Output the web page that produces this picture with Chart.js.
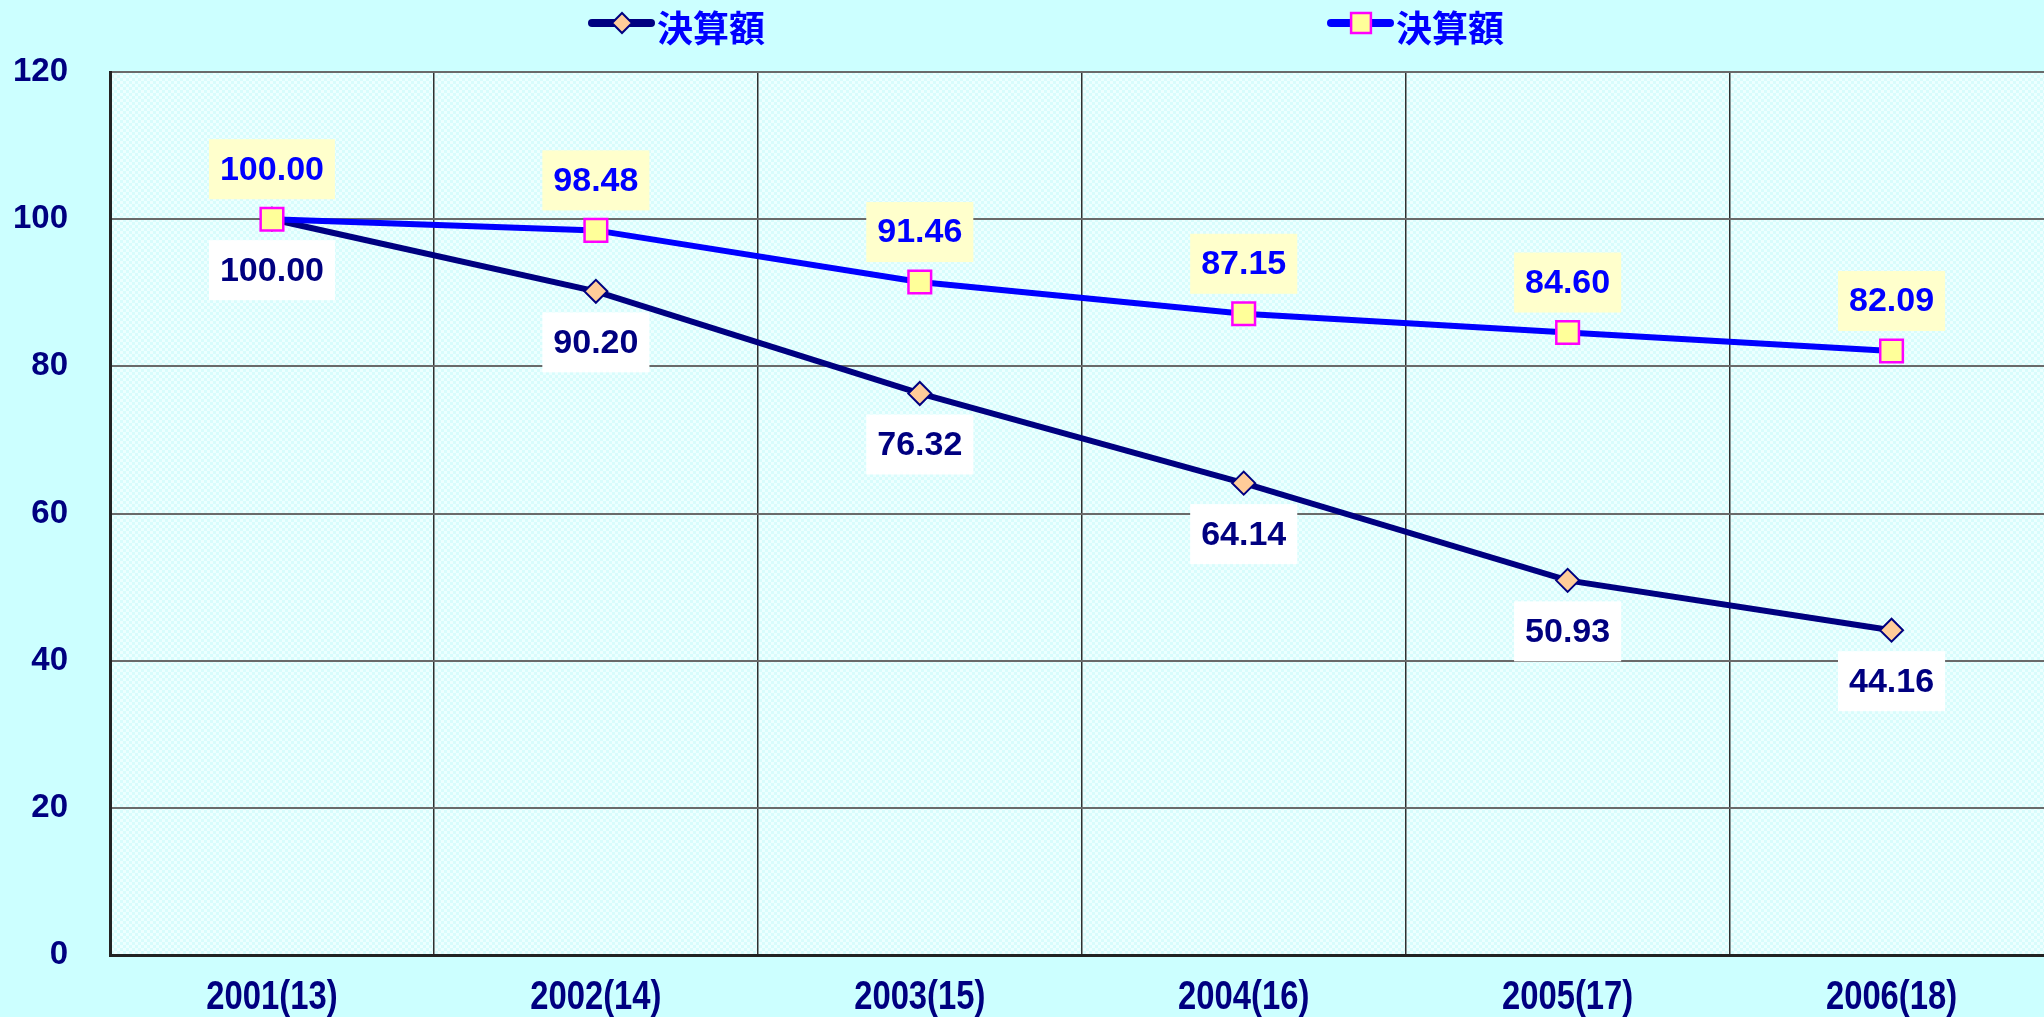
<!DOCTYPE html>
<html>
<head>
<meta charset="utf-8">
<script src="https://cdn.jsdelivr.net/npm/chart.js@4.4.1/dist/chart.umd.min.js"></script>
<style>
    html, body {
        margin: 0;
        padding: 0;
        overflow: hidden;
        background: #CCFFFF;
    }
    #wrap {
        position: relative;
        width: 2044px;
        height: 1017px;
        overflow: hidden;
    }
    #chart {
        position: absolute;
        left: 0;
        top: 0;
    }
</style>
</head>
<body>
<div id="wrap">
    <canvas id="chart" width="2072" height="1017"></canvas>
</div>
<script>
// Chart data
const years = ['2001(13)', '2002(14)', '2003(15)', '2004(16)', '2005(17)', '2006(18)'];
const seriesNames = ['決算額', '決算額'];
const navyValues = [100.00, 90.20, 76.32, 64.14, 50.93, 44.16];
const blueValues = [100.00, 98.48, 91.46, 87.15, 84.60, 82.09];
const yTicks = [0, 20, 40, 60, 80, 100, 120];

const NAVY = '#000080';
const BLUE = '#0000FF';

// Checkered plot background
function makePattern() {
    const c = document.createElement('canvas');
    c.width = 6;
    c.height = 6;
    const g = c.getContext('2d');
    g.fillStyle = '#EDFFFF';
    g.fillRect(0, 0, 6, 6);
    g.fillStyle = '#D8FCFC';
    g.fillRect(0, 0, 3, 3);
    g.fillRect(3, 3, 3, 3);
    return g.createPattern(c, 'repeat');
}

const plotBackground = {
    id: 'plotBackground',
    beforeDraw(chart) {
        const { ctx, chartArea } = chart;
        ctx.save();
        ctx.fillStyle = makePattern();
        ctx.fillRect(chartArea.left, chartArea.top, chartArea.right - chartArea.left, chartArea.bottom - chartArea.top);
        ctx.restore();
    }
};

// Condensed category labels under the x axis
const xLabels = {
    id: 'xLabels',
    afterDraw(chart) {
        const ctx = chart.ctx;
        const xs = chart.scales.x;
        ctx.save();
        ctx.font = 'bold 41px "Liberation Sans", Arial, sans-serif';
        ctx.fillStyle = NAVY;
        ctx.textAlign = 'center';
        ctx.textBaseline = 'middle';
        years.forEach((lab, i) => {
            const x = xs.getPixelForTick(i);
            ctx.save();
            ctx.translate(x, xs.bottom - 17);
            ctx.scale(0.8, 1);
            ctx.fillText(lab, 0, 0);
            ctx.restore();
        });
        ctx.restore();
    }
};

// Value labels in boxes
const valueLabels = {
    id: 'valueLabels',
    afterDatasetsDraw(chart) {
        const ctx = chart.ctx;
        ctx.save();
        ctx.font = 'bold 34px "Liberation Sans", Arial, sans-serif';
        ctx.textAlign = 'center';
        ctx.textBaseline = 'middle';
        chart.data.datasets.forEach((ds, i) => {
            const meta = chart.getDatasetMeta(i);
            meta.data.forEach((pt, j) => {
                const text = ds.data[j].toFixed(2);
                const w = ctx.measureText(text).width + 22;
                const h = 60;
                const cy = ds.labelAbove ? pt.y - 50 : pt.y + 51;
                ctx.fillStyle = ds.labelBox;
                ctx.fillRect(pt.x - w / 2, cy - h / 2, w, h);
                ctx.fillStyle = ds.labelColor;
                ctx.fillText(text, pt.x, cy + 1);
            });
        });
        ctx.restore();
    }
};

// Legend drawn at the top
const topLegend = {
    id: 'topLegend',
    afterDraw(chart) {
        const ctx = chart.ctx;
        const spots = [588, 1327];
        const legendRadius = [10, 14];
        ctx.save();
        chart.data.datasets.forEach((ds, i) => {
            const x0 = spots[i];
            const y = 23;
            ctx.strokeStyle = ds.borderColor;
            ctx.lineWidth = 8;
            ctx.lineCap = 'round';
            ctx.beginPath();
            ctx.moveTo(x0 + 4, y);
            ctx.lineTo(x0 + 63, y);
            ctx.stroke();
            ctx.fillStyle = ds.pointBackgroundColor;
            ctx.strokeStyle = ds.pointBorderColor;
            ctx.lineWidth = ds.pointBorderWidth;
            Chart.helpers.drawPoint(ctx, {
                pointStyle: ds.pointStyle,
                radius: legendRadius[i],
                borderWidth: ds.pointBorderWidth
            }, x0 + 34, y);
            ctx.font = 'bold 36px "Noto Sans CJK JP", sans-serif';
            ctx.fillStyle = BLUE;
            ctx.textAlign = 'left';
            ctx.textBaseline = 'middle';
            ctx.fillText(ds.label, x0 + 69, y + 5);
        });
        ctx.restore();
    }
};

new Chart(document.getElementById('chart'), {
    type: 'line',
    data: {
        labels: years,
        datasets: [{
            label: seriesNames[0],
            data: navyValues,
            borderColor: NAVY,
            borderWidth: 6,
            pointStyle: 'rectRot',
            pointRadius: 11.5,
            pointBackgroundColor: '#FFCC99',
            pointBorderColor: NAVY,
            pointBorderWidth: 2,
            tension: 0,
            order: 2,
            labelAbove: false,
            labelBox: '#FFFFFF',
            labelColor: NAVY
        }, {
            label: seriesNames[1],
            data: blueValues,
            borderColor: BLUE,
            borderWidth: 6,
            pointStyle: 'rect',
            pointRadius: 16,
            pointBackgroundColor: '#FFFF99',
            pointBorderColor: '#FF00FF',
            pointBorderWidth: 2.5,
            tension: 0,
            order: 1,
            labelAbove: true,
            labelBox: '#FFFFCC',
            labelColor: BLUE
        }]
    },
    options: {
        responsive: false,
        animation: false,
        layout: {
            padding: { top: 72, right: 6, bottom: 0, left: 0 }
        },
        plugins: {
            legend: { display: false },
            tooltip: { enabled: false }
        },
        scales: {
            x: {
                offset: true,
                afterFit(scale) {
                    scale.height = 59;
                },
                grid: {
                    offset: true,
                    color: '#303030',
                    lineWidth: 1.5,
                    drawTicks: false
                },
                border: {
                    color: '#222222',
                    width: 3
                },
                ticks: {
                    display: false
                }
            },
            y: {
                min: 0,
                max: 120,
                afterFit(scale) {
                    scale.width = 110;
                },
                afterBuildTicks(scale) {
                    scale.ticks = yTicks.map(v => ({ value: v }));
                },
                grid: {
                    color: '#6A6A6A',
                    lineWidth: 2,
                    drawTicks: false
                },
                border: {
                    color: '#222222',
                    width: 3
                },
                ticks: {
                    padding: 42,
                    color: NAVY,
                    font: {
                        family: '"Liberation Sans", Arial, sans-serif',
                        size: 33,
                        weight: 'bold'
                    }
                }
            }
        }
    },
    plugins: [plotBackground, valueLabels, topLegend, xLabels]
});
</script>
</body>
</html>
